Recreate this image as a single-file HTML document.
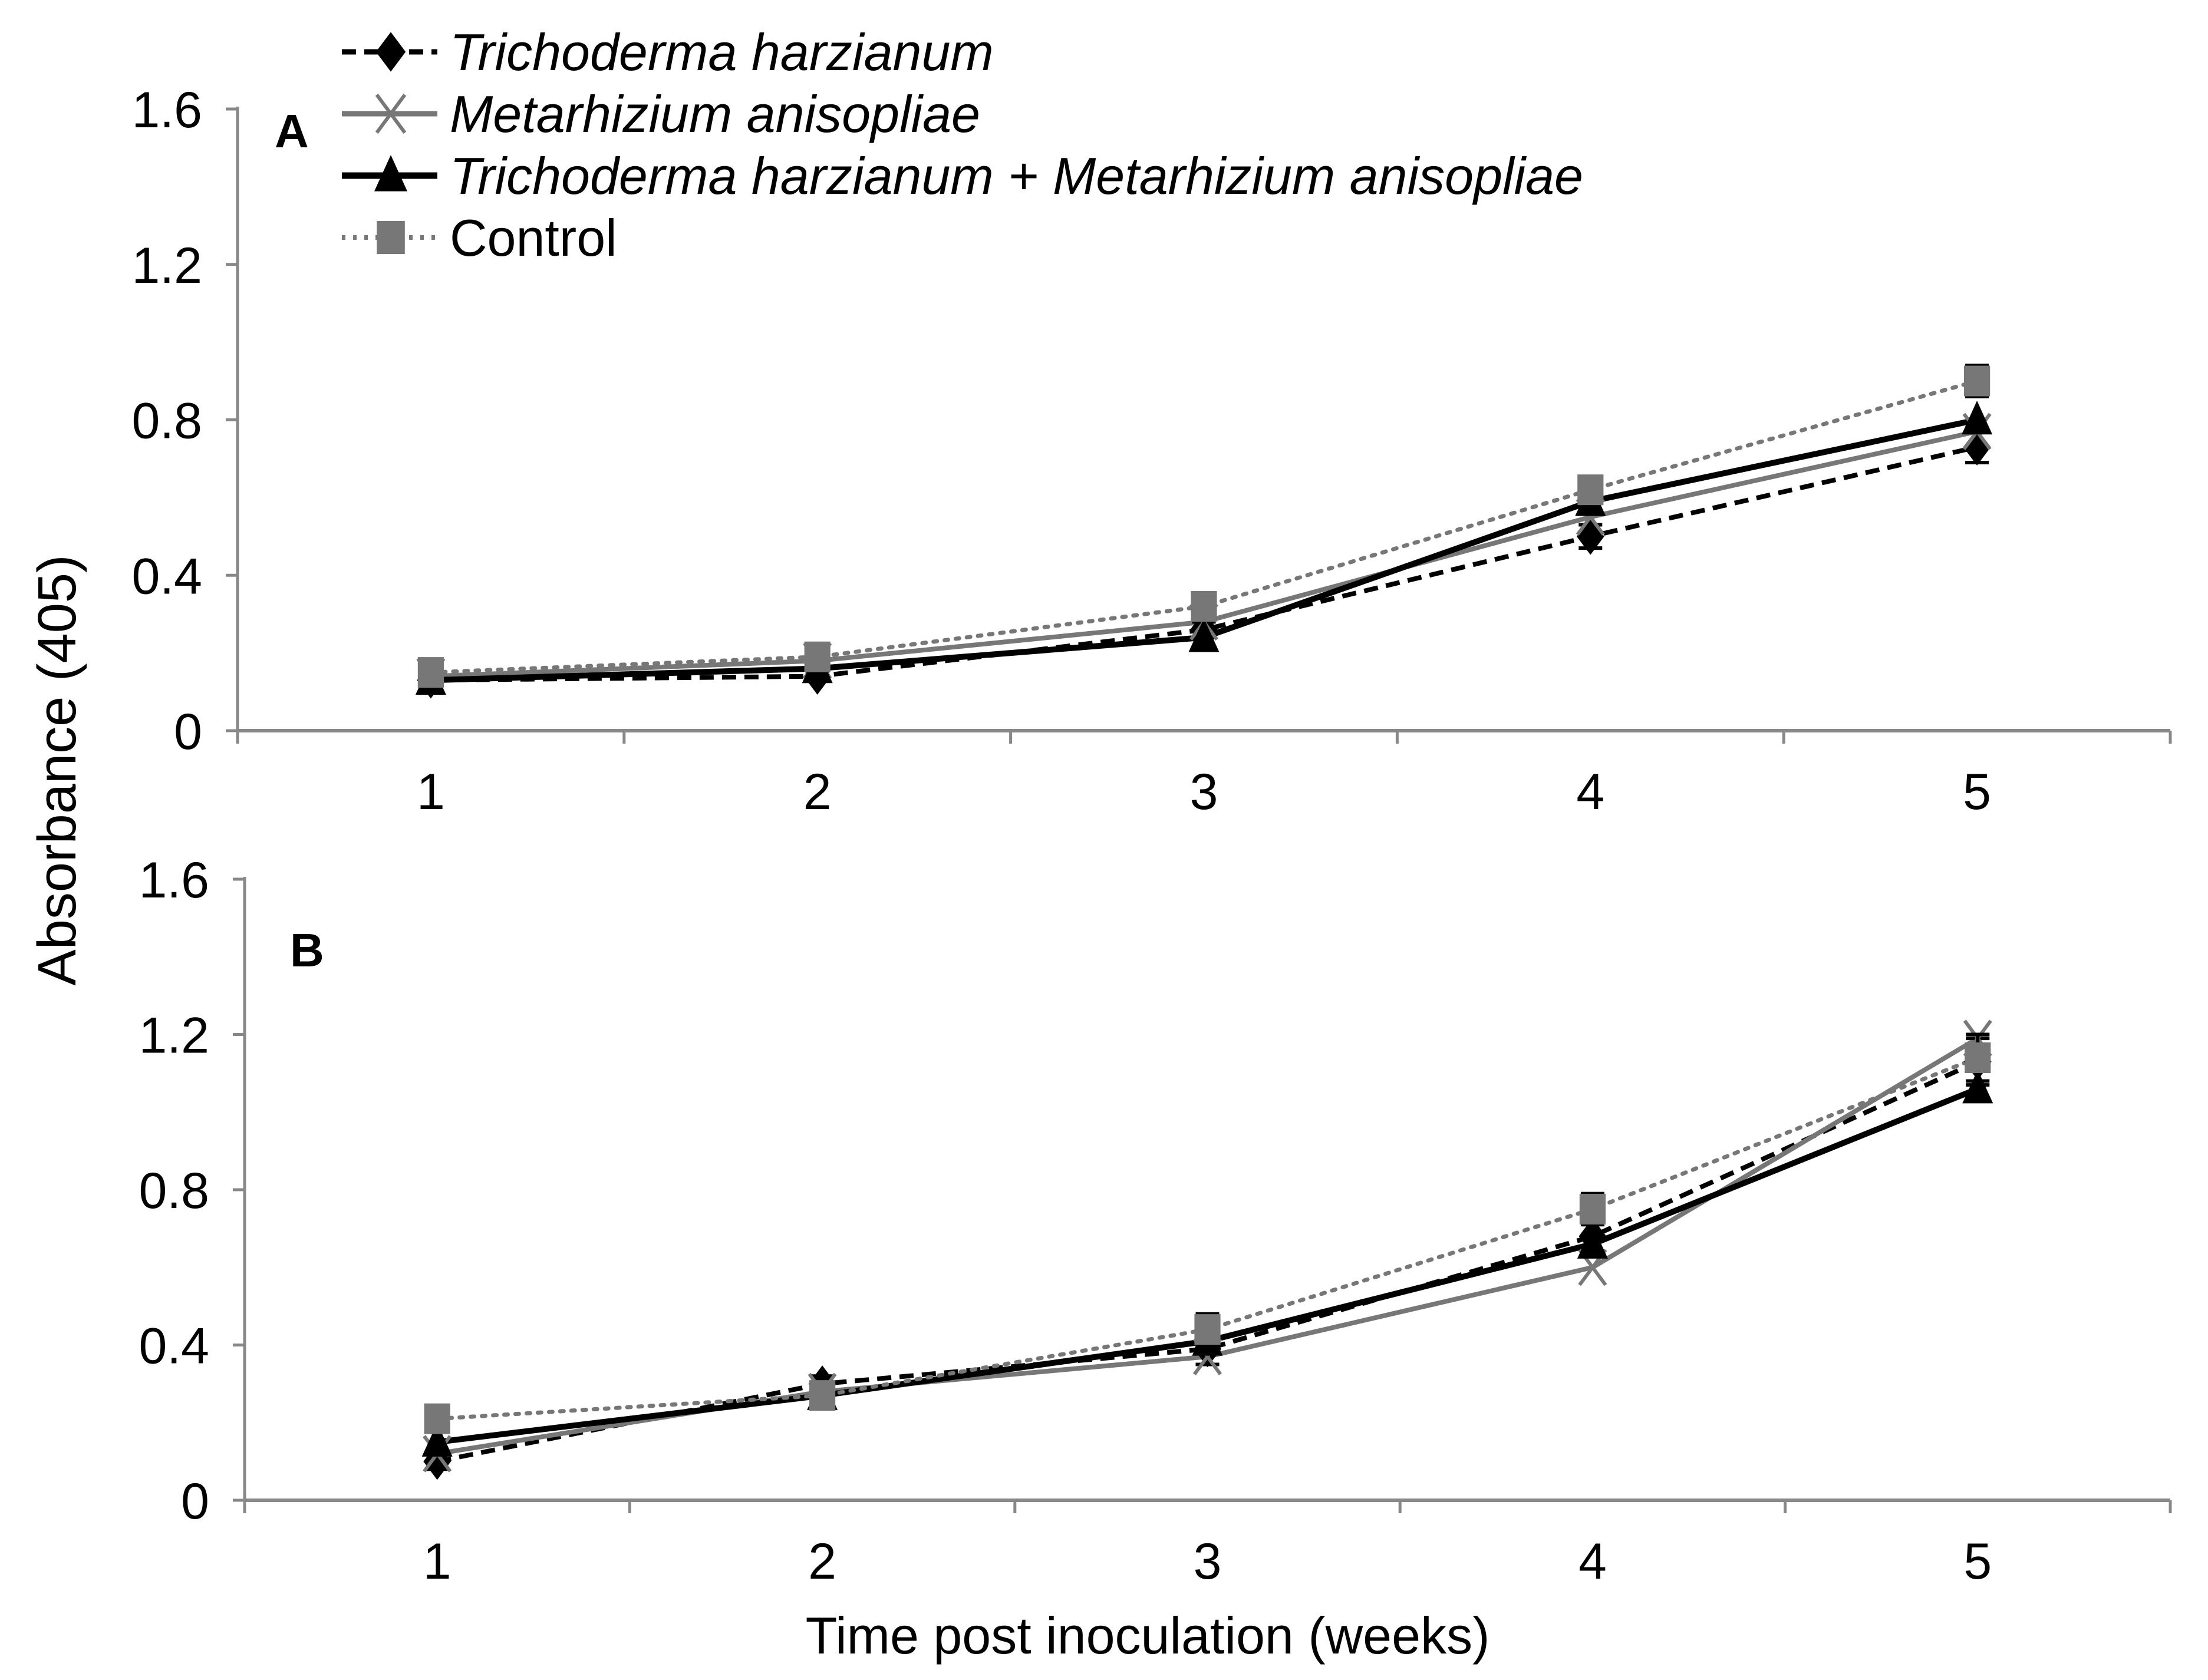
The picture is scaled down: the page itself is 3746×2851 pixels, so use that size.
<!DOCTYPE html>
<html><head><meta charset="utf-8"><style>
html,body{margin:0;padding:0;background:#fff;}
svg{display:block;}
text{font-family:"Liberation Sans",sans-serif;}
</style></head><body>
<svg id="chart" width="3746" height="2851" viewBox="0 0 3746 2851" xmlns="http://www.w3.org/2000/svg">
<rect width="3746" height="2851" fill="#fff"/>
<g id="legend"></g>
<g id="panelA"></g>
<g id="panelB"></g>
<text transform="translate(128,1307) rotate(-90)" text-anchor="middle" font-size="92" fill="#000">Absorbance (405)</text>
<text x="1947" y="2806" text-anchor="middle" font-size="88" fill="#000">Time post inoculation (weeks)</text>
</svg>
<script>
const categories = ["1","2","3","4","5"];
const yTicks = [0,0.4,0.8,1.2,1.6];
const yTickLabels = ["0","0.4","0.8","1.2","1.6"];
const seriesNames = ["Trichoderma harzianum","Metarhizium anisopliae","Trichoderma harzianum + Metarhizium anisopliae","Control"];
const aTh = [0.13,0.14,0.26,0.50,0.73];
const aMa = [0.14,0.18,0.28,0.55,0.77];
const aThMa = [0.13,0.16,0.24,0.59,0.80];
const aCtrl = [0.15,0.19,0.32,0.62,0.90];
const aErr = [0.01,0.01,0.02,0.03,0.04];
const bTh = [0.10,0.30,0.39,0.68,1.13];
const bMa = [0.12,0.28,0.37,0.60,1.19];
const bThMa = [0.15,0.27,0.41,0.66,1.06];
const bCtrl = [0.21,0.27,0.44,0.75,1.14];
const bErr = [0.02,0.02,0.04,0.04,0.06];

const NS="http://www.w3.org/2000/svg";
function mk(tag,attrs,parent){const e=document.createElementNS(NS,tag);for(const k in attrs)e.setAttribute(k,attrs[k]);parent.appendChild(e);return e;}

const styles=[
 {stroke:"#000",w:8,dash:"24,14",marker:"diamond",fill:"#000"},
 {stroke:"#777",w:8,dash:"",marker:"x",fill:"#777"},
 {stroke:"#000",w:10,dash:"",marker:"tri",fill:"#000"},
 {stroke:"#777",w:7,dash:"6,13",marker:"square",fill:"#777"}
];
function marker(g,type,x,y,s,fill){
  const h=s/2;let m;
  if(type==="diamond")m=mk("polygon",{points:`${x},${y-h*1.2} ${x+h*0.9},${y} ${x},${y+h*1.2} ${x-h*0.9},${y}`,fill:fill},g);
  else if(type==="square")m=mk("rect",{x:x-h*0.85,y:y-h,width:h*1.7,height:h*2,fill:fill},g);
  else if(type==="tri")m=mk("polygon",{points:`${x},${y-h*1.25} ${x+h*1.0},${y+h*0.95} ${x-h*1.0},${y+h*0.95}`,fill:fill},g);
  else {m=mk("path",{d:`M${x-h*0.85},${y-h*1.15}L${x+h*0.85},${y+h*1.15}M${x+h*0.85},${y-h*1.15}L${x-h*0.85},${y+h*1.15}`,stroke:fill,"stroke-width":6,fill:"none"},g);}
  return m;
}

function drawPanel(gid,left,right,y0,y1,label,lx,ly,data,err){
  const g=document.getElementById(gid);
  const yScale=v=>y0-(v/1.6)*(y0-y1);
  const step=(right-left)/categories.length;
  const xScale=i=>left+step*(i+0.5);
  const ax=mk("line",{x1:left,y1:y1-4,x2:left,y2:y0,stroke:"#888","stroke-width":5},g);
  
  
  yTicks.forEach((t,i)=>{
    const y=yScale(t);
    mk("line",{x1:left-20,y1:y,x2:left,y2:y,stroke:"#888","stroke-width":5},g);
    const tx=mk("text",{x:left-60,y:y+31,"text-anchor":"end","font-size":86,fill:"#000"},g);
    tx.textContent=yTickLabels[i];
    
    
  });
  const xa=mk("line",{x1:left,y1:y0,x2:right,y2:y0,stroke:"#888","stroke-width":6},g);
  
  
  for(let i=0;i<=categories.length;i++){
    const x=left+step*i;
    mk("line",{x1:x,y1:y0,x2:x,y2:y0+22,stroke:"#888","stroke-width":5},g);
  }
  categories.forEach((c,i)=>{
    const tx=mk("text",{x:xScale(i),y:y0+133,"text-anchor":"middle","font-size":86,fill:"#000"},g);
    tx.textContent=c;
    
    
  });
  const pl=mk("text",{x:lx,y:ly,"font-size":80,"font-weight":"bold",fill:"#000"},g);
  pl.textContent=label;
  
  
  data.forEach((vals,si)=>{
    const st=styles[si];
    const pts=vals.map((v,i)=>`${xScale(i)},${yScale(v)}`).join(" ");
    const line=mk("polyline",{points:pts,fill:"none",stroke:st.stroke,"stroke-width":st.w,"stroke-dasharray":st.dash,"stroke-linecap":si===3?"round":"butt"},g);
    
    
  });
  data.forEach((vals,si)=>{
    const st=styles[si];
    vals.forEach((v,i)=>{
      const x=xScale(i),y=yScale(v),e=err[i];
      if(si===3||si===0){
        const eb=mk("path",{d:`M${x},${yScale(v+e)}V${yScale(v-e)}M${x-20},${yScale(v+e)}H${x+20}M${x-20},${yScale(v-e)}H${x+20}`,stroke:"#000","stroke-width":6,fill:"none"},g);
        
        
      }
      const m=marker(g,st.marker,x,y,52,st.fill);
      
      
    });
  });
}
drawPanel("panelA",403,3682,1240,185,"A",466,250,[aTh,aMa,aThMa,aCtrl],aErr);
drawPanel("panelB",415,3682,2546,1492,"B",492,1640,[bTh,bMa,bThMa,bCtrl],bErr);

const lg=document.getElementById("legend");
const rowsY=[88,193,298,403];
seriesNames.forEach((n,i)=>{
  const st=styles[i];
  const ln=mk("line",{x1:580,y1:rowsY[i],x2:742,y2:rowsY[i],stroke:st.stroke,"stroke-width":st.w+1,"stroke-dasharray":st.dash},lg);
  
  
  const m=marker(lg,st.marker,663,rowsY[i],56,st.fill);
  
  
  const t=mk("text",{x:763,y:rowsY[i]+31,"font-size":88,fill:"#000","font-style":i===3?"normal":"italic"},lg);
  t.textContent=n;
  
  
});
</script>
</body></html>
